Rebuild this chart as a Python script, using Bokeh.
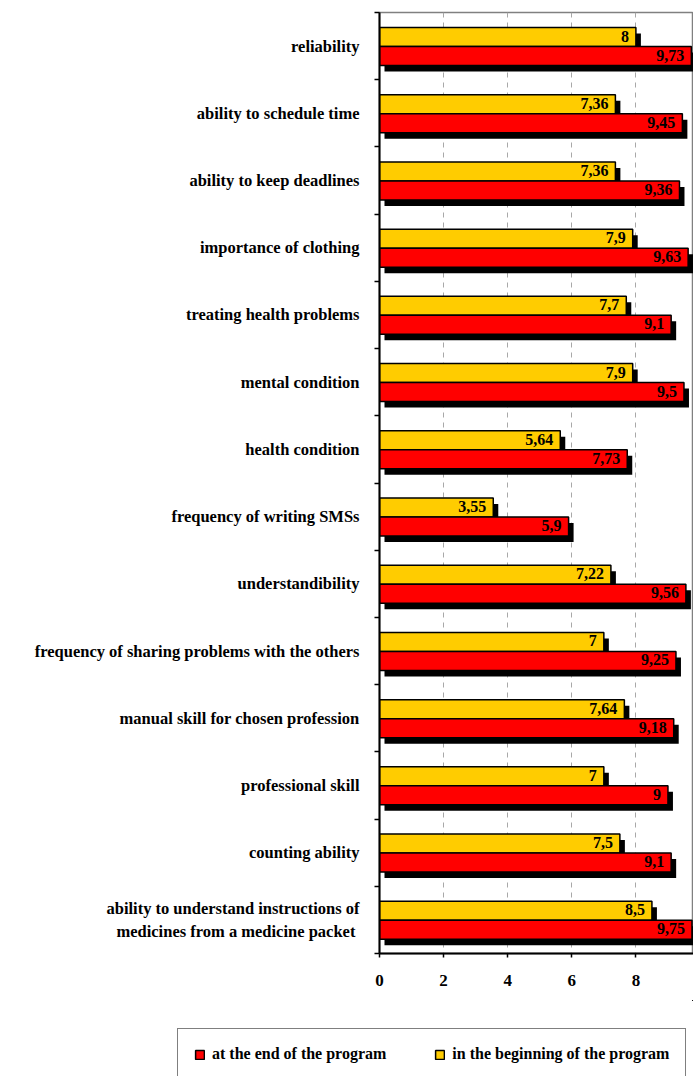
from bokeh.plotting import figure
from bokeh.models import (ColumnDataSource, Range1d, FixedTicker, Legend, LegendItem)
from bokeh.core.properties import value
from bokeh.embed import file_html
from bokeh.resources import INLINE

# Skills assessed, top to bottom
categories = [
    "reliability",
    "ability to schedule time",
    "ability to keep deadlines",
    "importance of clothing",
    "treating health problems",
    "mental condition",
    "health condition",
    "frequency of writing SMSs",
    "understandibility",
    "frequency of sharing problems with the others",
    "manual skill for chosen profession",
    "professional skill",
    "counting ability",
    "ability to understand instructions of\nmedicines from  a medicine packet",
]
# Mean scores in the beginning of the program
beginning = [8, 7.36, 7.36, 7.9, 7.7, 7.9, 5.64, 3.55, 7.22, 7, 7.64, 7, 7.5, 8.5]
# Mean scores at the end of the program
end = [9.73, 9.45, 9.36, 9.63, 9.1, 9.5, 7.73, 5.9, 9.56, 9.25, 9.18, 9, 9.1, 9.75]
x_ticks = [0, 2, 4, 6, 8, 10]
series_labels = ["at the end of the program", "in the beginning of the program"]

SERIF = "Liberation Serif"
YELLOW = "#FFCC00"
RED = "#FF0000"

n = len(categories)
PX_X = 32.05            # pixels per score unit
PX_ROW = 941 / n        # pixels per category row
SH_X = 5 / PX_X         # drop-shadow offset (right)
SH_Y = 6 / PX_ROW       # drop-shadow offset (down)
BAR_H = 19 / PX_ROW


def fmt(v):
    return f"{v:g}".replace(".", ",")


rows = list(range(n))
src_b = ColumnDataSource(dict(
    y=[i + 24.5 / PX_ROW for i in rows], v=beginning,
    sy=[i + 24.5 / PX_ROW + SH_Y for i in rows],
    sr=[b + SH_X for b in beginning], lab=[fmt(b) for b in beginning]))
src_e = ColumnDataSource(dict(
    y=[i + 43.5 / PX_ROW for i in rows], v=end,
    sy=[i + 43.5 / PX_ROW + SH_Y for i in rows],
    sr=[e + SH_X for e in end], lab=[fmt(e) for e in end]))

MAIN_H = 1000
p = figure(width=693, height=MAIN_H, output_backend="svg", toolbar_location=None,
           x_range=Range1d(0, 314 / PX_X), y_range=Range1d(n, 0),
           min_border_left=379, min_border_right=0, min_border_top=12,
           min_border_bottom=MAIN_H - 953)

p.outline_line_color = "#808080"
p.outline_line_width = 1.5
p.ygrid.visible = False
p.xgrid.ticker = FixedTicker(ticks=x_ticks)
p.xgrid.grid_line_color = "#A8A8A8"
p.xgrid.grid_line_dash = "5 5"
p.xgrid.grid_line_width = 1

# shadows
p.hbar(y="sy", left=SH_X, right="sr", height=BAR_H, source=src_b,
       fill_color="black", line_color=None)
p.hbar(y="sy", left=SH_X, right="sr", height=BAR_H, source=src_e,
       fill_color="black", line_color=None)
# bars
p.hbar(y="y", left=0, right="v", height=BAR_H, source=src_b,
       fill_color=YELLOW, line_color="black", line_width=1.5)
p.hbar(y="y", left=0, right="v", height=BAR_H, source=src_e,
       fill_color=RED, line_color="black", line_width=1.5)

for src in (src_b, src_e):
    p.text(x="v", y="y", text="lab", source=src, text_align="right",
           text_baseline="middle", x_offset=-7, y_offset=-1,
           text_font=value(SERIF), text_font_style="bold",
           text_font_size="16px", text_color="black")

# category axis: labels at row centres, ticks at row boundaries
yax = p.yaxis[0]
yax.ticker = FixedTicker(ticks=[i + 0.5 for i in rows],
                         minor_ticks=list(range(n + 1)))
yax.major_label_overrides = {i + 0.5: c for i, c in enumerate(categories)}
yax.major_tick_out = 0
yax.major_tick_in = 0
yax.minor_tick_out = 5
yax.minor_tick_in = 0
yax.minor_tick_line_color = "black"
yax.minor_tick_line_width = 1.5
yax.axis_line_color = "black"
yax.axis_line_width = 2
yax.major_label_standoff = 15
yax.major_label_text_font = SERIF
yax.major_label_text_font_style = "bold"
yax.major_label_text_font_size = "16.5px"
yax.major_label_text_color = "black"

xax = p.xaxis[0]
xax.ticker = FixedTicker(ticks=x_ticks, minor_ticks=[])
xax.major_tick_out = 4
xax.major_tick_in = 0
xax.major_tick_line_color = "black"
xax.major_tick_line_width = 1.5
xax.axis_line_color = "black"
xax.axis_line_width = 2
xax.major_label_standoff = 17
xax.major_label_text_font = SERIF
xax.major_label_text_font_style = "bold"
xax.major_label_text_font_size = "17px"
xax.major_label_text_color = "black"

# legend strip underneath the chart; its key renderers share the bar data
# but lie far outside the strip's ranges, so only the legend shows
LEG_H = 1076 - MAIN_H
lg = figure(width=693, height=LEG_H, output_backend="svg", toolbar_location=None,
            x_axis_type=None, y_axis_type=None, x_range=Range1d(-200, -100),
            y_range=Range1d(-200, -100), min_border=0)
lg.outline_line_color = None
lg.grid.visible = False
k_e = lg.hbar(y="y", left=0, right="v", height=BAR_H, source=src_e,
              fill_color=RED, line_color="black", line_width=1.5)
k_b = lg.hbar(y="y", left=0, right="v", height=BAR_H, source=src_b,
              fill_color=YELLOW, line_color="black", line_width=1.5)
legend = Legend(items=[LegendItem(label=series_labels[0], renderers=[k_e]),
                       LegendItem(label=series_labels[1], renderers=[k_b])],
                orientation="horizontal", location=(177, -4))
legend.padding = 16
legend.spacing = 48
legend.glyph_width = 11
legend.glyph_height = 11
legend.label_height = 14
legend.label_standoff = 7
legend.label_text_font = SERIF
legend.label_text_font_style = "bold"
legend.label_text_font_size = "16px"
legend.label_text_color = "black"
legend.border_line_color = "black"
legend.border_line_width = 1.5
legend.background_fill_color = "white"
legend.background_fill_alpha = 1
legend.margin = 0
lg.add_layout(legend, "center")

open("out.html", "w").write(file_html([p, lg], INLINE))
